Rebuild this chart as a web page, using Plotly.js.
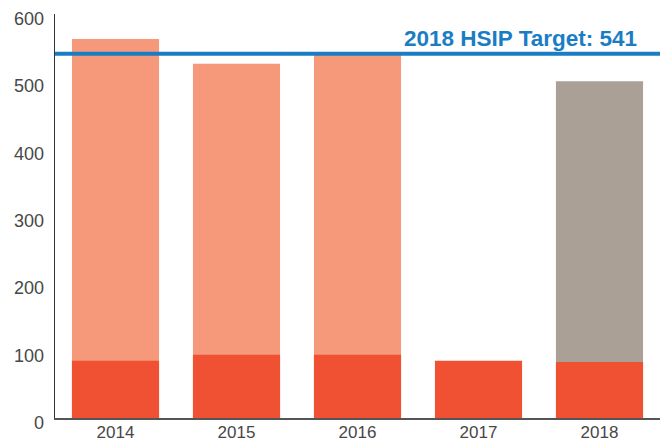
<!DOCTYPE html>
<html>
<head>
<meta charset="utf-8">
<script src="https://cdn.plot.ly/plotly-3.0.1.min.js"></script>
<style>html,body{margin:0;padding:0;background:#fff;}#chart{width:667px;height:443px;}</style>
</head>
<body>
<div id="chart"></div>
<script>
const years = ["2014", "2015", "2016", "2017", "2018"];
const totals = [563, 526, 540, null, 500];
const fatalities = [85, 94, 94, 85, 83];
const totalColors = ["#f5997a", "#f5997a", "#f5997a", "#f5997a", "#aaa096"];
const target = 541;
const targetLabel = "2018 HSIP Target: 541";
const yTicks = [0, 100, 200, 300, 400, 500, 600];

const traces = [
  {type: "bar", x: years, y: totals, marker: {color: totalColors}, width: 0.72, hoverinfo: "skip"},
  {type: "bar", x: years, y: fatalities, marker: {color: "#f05133"}, width: 0.72, hoverinfo: "skip"}
];

const tickAnnotations = yTicks.map(v => ({
  xref: "paper", x: 0, xanchor: "right", xshift: -9, yref: "y", y: v, yanchor: "middle", yshift: -5,
  text: String(v), showarrow: false, font: {size: 18, color: "#474747"}
}));

const layout = {
  width: 667, height: 443,
  margin: {l: 55, r: 7, t: 14, b: 25},
  paper_bgcolor: "#fff", plot_bgcolor: "#fff",
  showlegend: false,
  barmode: "overlay",
  font: {family: "Liberation Sans, Arial, sans-serif", color: "#474747", size: 18},
  xaxis: {type: "category", range: [-0.5, 4.5], showline: true, linecolor: "#555", linewidth: 2,
          ticks: "", showgrid: false, zeroline: false, ticklabelstandoff: -2,
          tickfont: {size: 17, color: "#474747"}},
  yaxis: {range: [0, 600], tickvals: yTicks, showticklabels: false, showline: true, linecolor: "#333", linewidth: 1.5,
          ticks: "", showgrid: false, zeroline: false},
  shapes: [{type: "line", xref: "paper", x0: 0, x1: 1, yref: "y", y0: target, y1: target,
            line: {color: "#1a7dc4", width: 4}}],
  annotations: tickAnnotations.concat([{xref: "paper", x: 0.965, xanchor: "right", yref: "y", y: target, yanchor: "bottom",
                 yshift: 1, text: "<b>" + targetLabel + "</b>", showarrow: false,
                 font: {size: 22.5, color: "#1a7dc4", family: "Liberation Sans, Arial, sans-serif"}}])
};

Plotly.newPlot("chart", traces, layout, {displayModeBar: false, staticPlot: true});
</script>
</body>
</html>
